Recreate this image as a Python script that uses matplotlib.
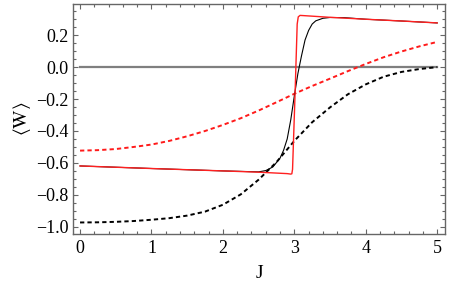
import matplotlib.pyplot as plt
import numpy as np
from matplotlib.ticker import MultipleLocator

# red solid curve
red_J = [0, 1, 2, 2.5, 2.9, 2.95, 2.965, 2.975, 3.01, 3.04, 3.055, 3.08, 3.12,
         3.5, 4, 4.5, 5]
red_W = [-0.619, -0.635, -0.650, -0.658, -0.667, -0.670, -0.668, -0.64, -0.17, 0.27,
         0.315, 0.324, 0.323, 0.312, 0.30, 0.289, 0.277]

# black solid curve
blk_J = [0, 1, 2, 2.5, 2.6, 2.7, 2.8, 2.85, 2.9, 2.95, 3.0, 3.05, 3.1, 3.15, 3.2,
         3.25, 3.3, 3.4, 3.5, 3.7, 4, 4.5, 5]
blk_W = [-0.619, -0.635, -0.650, -0.656, -0.648, -0.625, -0.57, -0.52, -0.45, -0.33,
         -0.18, -0.04, 0.07, 0.17, 0.23, 0.27, 0.29, 0.306, 0.311, 0.31, 0.30, 0.289,
         0.277]

# dashed curves
dash_J = [0, 0.25, 0.5, 0.75, 1.0, 1.25, 1.5, 1.75, 2.0, 2.25, 2.5, 2.75, 3.0,
          3.25, 3.5, 3.75, 4.0, 4.25, 4.5, 4.75, 5.0]
red_dash_W = [-0.523, -0.520, -0.513, -0.500, -0.485, -0.462, -0.433, -0.400, -0.362,
              -0.320, -0.272, -0.220, -0.167, -0.118, -0.072, -0.025, 0.020, 0.062,
              0.098, 0.130, 0.158]
blk_dash_W = [-0.973, -0.972, -0.969, -0.964, -0.956, -0.946, -0.930, -0.905, -0.862,
              -0.797, -0.705, -0.595, -0.462, -0.345, -0.252, -0.170, -0.108, -0.060,
              -0.030, -0.012, 0.0]

plt.rcParams['font.family'] = ['Liberation Serif', 'DejaVu Serif']
plt.rcParams['mathtext.fontset'] = 'stix'

fig = plt.figure(figsize=(4.5, 2.91), dpi=100)
ax = fig.add_axes([0.162, 0.196, 0.827, 0.790])

ax.plot([0, 5], [0, 0], color='#7f7f7f', lw=1.6)
ax.plot(dash_J, blk_dash_W, color='black', lw=1.4, dashes=(2.2, 1.6))
ax.plot(dash_J, red_dash_W, color='#ff1a1a', lw=1.4, dashes=(2.2, 1.6))
ax.plot(blk_J, blk_W, color='black', lw=0.8)
ax.plot(red_J, red_W, color='#ff2020', lw=1.0)

ax.set_xlim(-0.1, 5.11)
ax.set_ylim(-1.045, 0.395)
ax.xaxis.set_major_locator(MultipleLocator(1))
ax.xaxis.set_minor_locator(MultipleLocator(0.2))
ax.yaxis.set_major_locator(MultipleLocator(0.2))
ax.yaxis.set_minor_locator(MultipleLocator(0.05))
ax.yaxis.set_major_formatter(plt.FuncFormatter(lambda v, p: f'{v:.1f}'.replace('-', '\u2212')))

for s in ax.spines.values():
    s.set_color('#666666')
    s.set_linewidth(1.0)
ax.tick_params(which='both', direction='in', top=True, right=True, color='#666666',
               labelsize=13, width=0.8)
ax.tick_params(which='major', length=3.4)
ax.tick_params(which='minor', length=2.2)
ax.tick_params(axis='y', pad=3)
ax.tick_params(axis='x', pad=4)

ax.set_xlabel('J', fontsize=14, labelpad=6)
ax.set_ylabel(r'$\langle\mathrm{W}\rangle$', fontsize=14, labelpad=2)

fig.savefig('out.png', dpi=100)
